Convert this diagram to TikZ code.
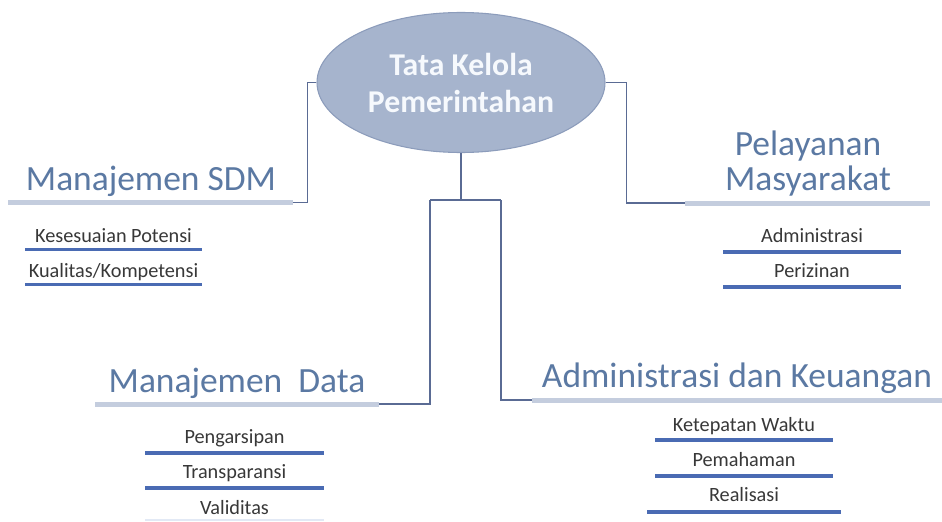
\documentclass[tikz,border=0pt]{standalone}
\usepackage{fontspec}
\setmainfont{Carlito}
\usetikzlibrary{shapes.geometric}
\definecolor{ellfill}{HTML}{A6B4CD}
\definecolor{ellline}{HTML}{8C9CBB}
\definecolor{titletext}{HTML}{F6F9FD}
\definecolor{headblue}{HTML}{5B79A3}
\definecolor{headbarfill}{HTML}{C4CDDE}
\definecolor{itembarfill}{HTML}{4A6BB3}
\definecolor{itemtext}{HTML}{383838}
\definecolor{linkcol}{HTML}{5A6B94}
\definecolor{fadedbar}{HTML}{E2E9F5}

% one sub-item: name, centre x, baseline y, bar y, bar half width, text
\newcommand\drawsub[6]{%
  \node[itemtxt] (#1) at (#2,#3) {#6};
  \draw[itembar] (#2-#5,#4) -- (#2+#5,#4);}

\begin{document}
\begin{tikzpicture}[x=0.75pt,y=-0.75pt,
  hubnode/.style={ellipse, draw=ellline, fill=ellfill, line width=0.8pt,
    minimum width=216pt, minimum height=105pt, inner sep=0pt,
    text=titletext, align=center,
    font=\fontsize{23.8}{27.75}\selectfont\bfseries},
  headtxt/.style={anchor=base, text=headblue, inner sep=0pt, align=center,
    font=\fontsize{26.6}{26.6}\selectfont},
  headbar/.style={draw=headbarfill, line width=3.75pt},
  itemtxt/.style={anchor=base, text=itemtext, inner sep=0pt,
    font=\fontsize{15.2}{18}\selectfont},
  itembar/.style={draw=itembarfill, line width=2.8pt},
  link/.style={draw=linkcol, line width=0.9pt}
]
\useasboundingbox[fill=white] (0,0) rectangle (942,521);

% central ellipse
\node[hubnode] (gov) at (461,82.5) {Tata Kelola\\Pemerintahan};

% branch headings and their bars
\node[headtxt] (sdm) at (151,190) {Manajemen SDM};
\coordinate (sdmL) at (8,202.5);
\coordinate (sdmR) at (293,202.5);
\draw[headbar] (sdmL) -- (sdmR);

\node[headtxt] (pel) at (808,155) {Pelayanan};
\node[headtxt] (mas) at (808,190) {Masyarakat};
\coordinate (pelL) at (685,203);
\coordinate (pelR) at (930,203);
\draw[headbar] (pelL) -- (pelR);

\node[headtxt] (data) at (237,392) {Manajemen\ \ Data};
\coordinate (dataL) at (95,404);
\coordinate (dataR) at (379,404);
\draw[headbar] (dataL) -- (dataR);

\node[headtxt] (keu) at (737,387) {Administrasi dan Keuangan};
\coordinate (keuL) at (532,400);
\coordinate (keuR) at (942,400);
\draw[headbar] (keuL) -- (keuR);

% connectors
\draw[link] (gov.west) -- ++(-9,0) |- (sdmR);
\draw[link] (gov.east) -- ++(21,0) |- (pelL);
\coordinate (forkL) at (430,200);
\coordinate (forkR) at (501,200);
\draw[link] (gov.south) -- (gov.south |- forkL);
\draw[link] (forkL) -- (forkR);
\draw[link] (forkL) |- (dataR);
\draw[link] (forkR) |- (keuL);

% sub-items
\drawsub{kp}{113.5}{242}{249.5}{88.5}{Kesesuaian Potensi}
\drawsub{kk}{113.5}{277}{284.5}{88.5}{Kualitas/Kompetensi}

\drawsub{adm}{812}{242}{252}{89}{Administrasi}
\drawsub{izn}{812}{277}{287}{89}{Perizinan}

\drawsub{arsip}{234.5}{443}{453}{89.5}{Pengarsipan}
\drawsub{trans}{234.5}{478}{488}{89.5}{Transparansi}
\node[itemtxt] (valid) at (234.5,514) {Validitas};
\draw[draw=fadedbar, line width=1.5pt] (145,519.5) -- (324,519.5);

\drawsub{tepat}{744}{431}{440}{89}{Ketepatan Waktu}
\drawsub{paham}{744}{466}{476}{89}{Pemahaman}
\drawsub{real}{744}{501}{512}{97}{Realisasi}
\end{tikzpicture}
\end{document}
